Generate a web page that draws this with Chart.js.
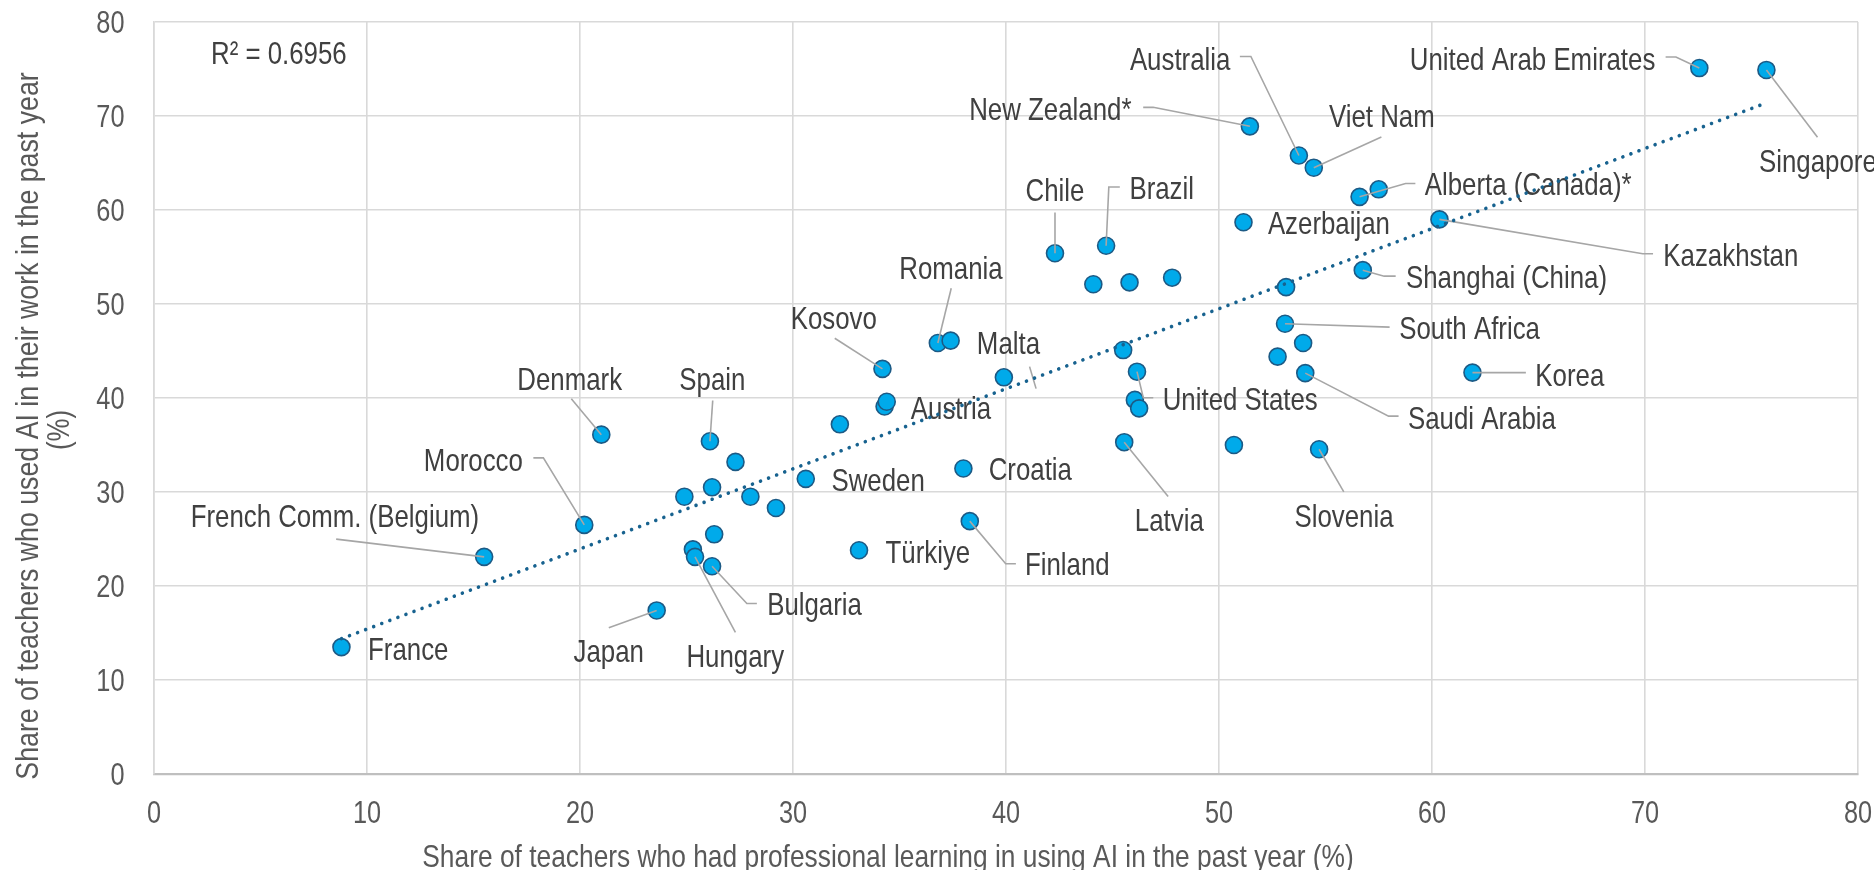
<!DOCTYPE html>
<html><head><meta charset="utf-8">
<script src="https://cdn.jsdelivr.net/npm/chart.js@4.4.1/dist/chart.umd.min.js"></script>
<style>html,body{margin:0;padding:0;background:#fff;overflow:hidden}#wrap{width:1874px;height:870px;position:relative}canvas{display:block}</style>
</head><body>
<div id="wrap"><canvas id="c" width="1874" height="870"></canvas></div>
<script>
// ---------- DATA ----------
const countries = ['France','French Comm. (Belgium)','Morocco','Denmark','Japan','','','Hungary','Spain','Bulgaria','','','','','','Sweden','','Türkiye','Kosovo','','Austria','Romania','','Croatia','Finland','Malta','Chile','','Brazil','','Latvia','','','United States','','','','Azerbaijan','New Zealand*','','South Africa','','Australia','','Saudi Arabia','Viet Nam','Slovenia','Alberta (Canada)*','Shanghai (China)','','Kazakhstan','Korea','United Arab Emirates','Singapore'];
const profLearningAI = [8.8,15.5,20.2,21.0,23.6,24.9,25.3,25.4,26.1,26.2,26.2,26.3,27.3,28.0,29.2,30.6,32.2,33.1,34.2,34.3,34.4,36.8,37.4,38.0,38.3,39.9,42.3,44.1,44.7,45.5,45.55,45.8,46.05,46.15,46.25,47.8,50.7,51.15,51.45,52.75,53.1,53.15,53.75,53.95,54.05,54.45,54.7,56.6,56.75,57.5,60.35,61.9,72.55,75.7];
const usedAI = [13.5,23.1,26.5,36.1,17.4,29.5,23.9,23.1,35.4,22.1,30.5,25.5,33.2,29.5,28.3,31.4,37.2,23.8,43.1,39.1,39.6,45.85,46.1,32.5,26.9,42.2,55.4,52.1,56.2,45.1,35.3,52.3,39.8,42.8,38.9,52.8,35.0,58.7,68.9,44.4,47.9,51.8,65.8,45.85,42.65,64.5,34.55,61.4,53.6,62.2,59.0,42.7,75.1,74.9];
const trendX = [8.8, 75.7];
const trendY = [14.4, 71.4];
const axisMin = 0, axisMax = 80, axisStep = 10;
const rSquaredText = 'R² = 0.6956';
const xTitle = 'Share of teachers who had professional learning in using AI in the past year (%)';
const yTitleLines = ['Share of teachers who used AI in their work in the past year', '(%)'];

// ---------- LABEL LAYOUT (pixel offsets from each point) ----------
const labelLayout = {
  'France':{dx:26.6,dy:1.3},
  'French Comm. (Belgium)':{dx:-293.5,dy:-40.7,leader:[[-148,-17.7]]},
  'Morocco':{dx:-160.4,dy:-65.3,leader:[[-50.9,-67],[-40.9,-67]]},
  'Denmark':{dx:-84,dy:-56,leader:[[-30,-36]]},
  'Japan':{dx:-83.2,dy:40.7,leader:[[-47.9,17.4]]},
  'Hungary':{dx:-8.6,dy:99.3,leader:[[40.4,75.6]]},
  'Bulgaria':{dx:55.1,dy:37,leader:[[44.8,37.3],[34.8,37.3]]},
  'Spain':{dx:-30.6,dy:-62.7,leader:[[2.8,-40.7]]},
  'Sweden':{dx:25.7,dy:1.3},
  'Türkiye':{dx:26.5,dy:1},
  'Kosovo':{dx:-91.8,dy:-51.3,leader:[[-47.7,-30.6]]},
  'Austria':{dx:24.1,dy:6.3},
  'Romania':{dx:-38.6,dy:-75.7,leader:[[13.4,-54.7]]},
  'Croatia':{dx:25.3,dy:0.7},
  'Finland':{dx:55.1,dy:42.3,leader:[[46.1,42.6],[35.9,42.6]]},
  'Malta':{dx:-27,dy:-34.7,leader:[[25.7,-10.7],[32.2,11.3]],detached:true},
  'Chile':{dx:-29.4,dy:-63.7,leader:[[0,-40.7]]},
  'Brazil':{dx:23.3,dy:-57.7,leader:[[13.7,-58.7],[2.7,-58.7]]},
  'Latvia':{dx:10.6,dy:77.7,leader:[[43.9,54.4]]},
  'United States':{dx:25.7,dy:27.3,leader:[[16.3,26],[6.3,26]]},
  'Azerbaijan':{dx:24.4,dy:0.7},
  'New Zealand*':{dx:-280.7,dy:-18,leader:[[-106.7,-19],[-96.7,-19]]},
  'South Africa':{dx:114.2,dy:3.7,leader:[[104.6,3.4]]},
  'Australia':{dx:-169,dy:-97,leader:[[-59,-99],[-48,-99]]},
  'Saudi Arabia':{dx:102.7,dy:44.3,leader:[[93.3,43],[83.3,43]]},
  'Viet Nam':{dx:15.2,dy:-52.3,leader:[[67.6,-30.6]]},
  'Slovenia':{dx:-24.6,dy:66,leader:[[24.7,42.7]]},
  'Alberta (Canada)*':{dx:65.2,dy:-12.7,leader:[[55.8,-13.4],[46,-13.4]]},
  'Shanghai (China)':{dx:43.2,dy:7,leader:[[32.9,6],[21.4,6]]},
  'Kazakhstan':{dx:223.9,dy:35,leader:[[213.6,34.3],[203.3,34.3]]},
  'Korea':{dx:62.9,dy:1.7,leader:[[53.4,0]]},
  'United Arab Emirates':{dx:-289.5,dy:-9.7,leader:[[-33.7,-11],[-23.4,-11]]},
  'Singapore':{dx:-7.4,dy:90.7,leader:[[51.1,67.4]]}
};

// ---------- FONT ----------
function hasFont(name){
  const c=document.createElement('canvas').getContext('2d');
  const s='United Arab Emirates 0123456789 Wwm';
  const r=[];
  for(const base of ['monospace','serif']){
    c.font='40px '+base; const a=c.measureText(s).width;
    c.font='40px "'+name+'", '+base; const b=c.measureText(s).width;
    r.push(a!==b);
  }
  return r[0]||r[1];
}
const NARROW = hasFont('Liberation Sans Narrow');
const FAMILY = NARROW ? '"Liberation Sans Narrow", "Liberation Sans", Arial, sans-serif' : '"Liberation Sans", Arial, sans-serif';
const NARROW_F = NARROW ? 1 : 0.82;   // horizontal condensing to mimic Arial Narrow
const LABEL_SIZE = 31.5;
const TICK_SIZE = 31.5;

function drawTxt(ctx, text, x, y, align, color, size, sx){
  ctx.save();
  ctx.translate(x,y);
  ctx.scale((sx||1)*NARROW_F,1);
  ctx.font = size+'px '+FAMILY;
  ctx.textAlign = align;
  ctx.textBaseline = 'alphabetic';
  ctx.fillStyle = color;
  ctx.fillText(text,0,0);
  ctx.restore();
}

const scatterPoints = profLearningAI.map((x,i)=>({x:x, y:usedAI[i]}));
const trendPoints = trendX.map((x,i)=>({x:x, y:trendY[i]}));

const labelsPlugin = {
  id:'countryLabels',
  beforeDatasetDraw(chart, args){
    if(args.index !== 1) return;
    const ctx = chart.ctx;
    const xs = chart.scales.x, ys = chart.scales.y;
    ctx.save();
    ctx.strokeStyle = '#a6a6a6';
    ctx.lineWidth = 1.6;
    countries.forEach((name,i)=>{
      const L = labelLayout[name]; if(!name || !L || !L.leader) return;
      const px = xs.getPixelForValue(profLearningAI[i]);
      const py = ys.getPixelForValue(usedAI[i]);
      ctx.beginPath();
      L.leader.forEach((p,k)=>{ if(k===0) ctx.moveTo(px+p[0],py+p[1]); else ctx.lineTo(px+p[0],py+p[1]); });
      if(!L.detached) ctx.lineTo(px,py);
      ctx.stroke();
    });
    const capHalf = LABEL_SIZE*0.716/2;
    countries.forEach((name,i)=>{
      const L = labelLayout[name]; if(!name || !L) return;
      const px = xs.getPixelForValue(profLearningAI[i]);
      const py = ys.getPixelForValue(usedAI[i]);
      drawTxt(ctx, name, px+L.dx, py+L.dy+capHalf, 'left', '#404040', LABEL_SIZE);
    });
    drawTxt(ctx, rSquaredText, xs.getPixelForValue(axisMin)+57, ys.getPixelForValue(axisMax)+41.5, 'left', '#404040', LABEL_SIZE);
    ctx.restore();
  },
  afterDraw(chart){
    const ctx = chart.ctx;
    const xs = chart.scales.x, ys = chart.scales.y;
    const capHalf = TICK_SIZE*0.716/2;
    // tick labels from the library's scales
    xs.ticks.forEach(t=>{
      drawTxt(ctx, String(t.value), xs.getPixelForValue(t.value), xs.top + 49, 'center', '#595959', TICK_SIZE, 0.98);
    });
    ys.ticks.forEach(t=>{
      drawTxt(ctx, String(t.value), ys.right - 29.5, ys.getPixelForValue(t.value) + capHalf, 'right', '#595959', TICK_SIZE, 0.98);
    });
    // x axis title (bottom partly cut by the canvas edge, as in reference)
    drawTxt(ctx, xTitle, 888, 867, 'center', '#595959', LABEL_SIZE, 1.02);
    // y axis title, rotated
    ctx.save();
    ctx.translate(37.5, 426);
    ctx.rotate(-Math.PI/2);
    drawTxt(ctx, yTitleLines[0], 0, 0, 'center', '#595959', LABEL_SIZE, 1.035);
    ctx.restore();
    ctx.save();
    ctx.translate(69, 430);
    ctx.rotate(-Math.PI/2);
    drawTxt(ctx, yTitleLines[1], 0, 0, 'center', '#595959', LABEL_SIZE, 1.0);
    ctx.restore();
  }
};

const TARGET = {top:22, right:1858};
const chart = new Chart(document.getElementById('c'), {
  type:'scatter',
  data:{
    datasets:[
      {
        label:'Countries',
        data:scatterPoints,
        order:2,
        pointRadius:8.5,
        pointHoverRadius:8.5,
        pointBackgroundColor:'#00AAEA',
        pointBorderColor:'#1C5A85',
        pointBorderWidth:1.6,
        showLine:false
      },
      {
        label:'Linear trend',
        type:'line',
        data:trendPoints,
        order:1,
        showLine:true,
        fill:false,
        pointRadius:0,
        borderColor:'#17628F',
        borderWidth:3.6,
        borderDash:[0.01, 8.6],
        borderCapStyle:'round',
        tension:0
      }
    ]
  },
  options:{
    responsive:false,
    devicePixelRatio:1,
    animation:false,
    events:[],
    layout:{padding:{left:0,right:16,top:22,bottom:0}},
    plugins:{legend:{display:false}, tooltip:{enabled:false}, title:{display:false}},
    scales:{
      x:{
        type:'linear', position:'bottom', min:axisMin, max:axisMax,
        afterFit(scale){ scale.height = 96; },
        ticks:{stepSize:axisStep, display:false},
        grid:{color:'#d9d9d9', lineWidth:1.6, drawTicks:false},
        border:{color:'#bfbfbf', width:2.2}
      },
      y:{
        type:'linear', min:axisMin, max:axisMax,
        afterFit(scale){ scale.width = 154; },
        ticks:{stepSize:axisStep, display:false},
        grid:{color:'#d9d9d9', lineWidth:1.6, drawTicks:false},
        border:{color:'#d9d9d9', width:1.6}
      }
    }
  },
  plugins:[labelsPlugin]
});
// make the plot area land exactly where the reference has it
for(let k=0;k<3;k++){
  const ca = chart.chartArea;
  const p = chart.options.layout.padding;
  const dt = TARGET.top - ca.top, dr = ca.right - TARGET.right;
  if(Math.abs(dt)<0.5 && Math.abs(dr)<0.5) break;
  p.top = Math.max(0, p.top + dt);
  p.right = Math.max(0, p.right + dr);
  chart.update();
}
</script>
</body></html>
